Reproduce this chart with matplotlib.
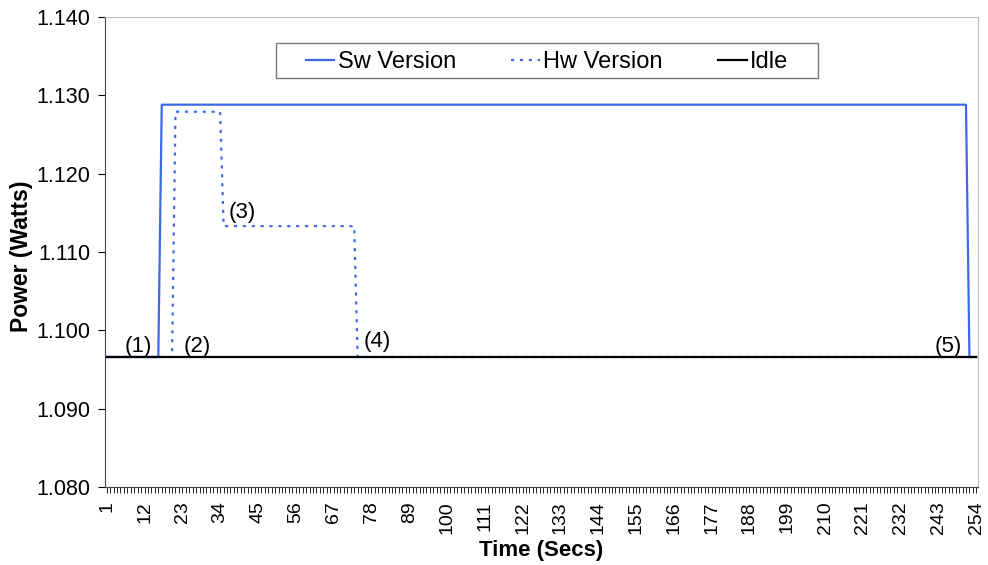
import numpy as np
import matplotlib.pyplot as plt
from matplotlib.patches import Rectangle

plt.rcParams['font.family'] = ['Liberation Sans', 'DejaVu Sans']

# step levels (Watts) and how many samples each level lasts
idle_level = 1.0966
sw_levels = [1.0966, 1.1288, 1.0966]
sw_runs = [16, 235, 3]
hw_levels = [1.0966, 1.1279, 1.1133, 1.0966]
hw_runs = [20, 14, 39, 181]
n_samples = 254

notes = ['(1)', '(2)', '(3)', '(4)', '(5)']
note_x = [10.1, 27.3, 40.4, 79.6, 245.8]
note_y = [1.0980, 1.0980, 1.1150, 1.0986, 1.0979]


def main():
    t = np.arange(1, n_samples + 1)
    sw = np.repeat(sw_levels, sw_runs)
    hw = np.repeat(hw_levels, hw_runs)
    idle = np.full(n_samples, idle_level)

    fig = plt.figure(figsize=(9.88, 5.65), dpi=100)
    ax = fig.add_axes([0.1063, 0.138, 0.8836, 0.832])

    blue = '#3d6ae8'
    ax.plot(t, sw, color=blue, lw=1.6, label='Sw Version')
    ax.plot(t, hw, color=blue, lw=1.6, ls=(0, (1.4, 2.6)), label='Hw Version')
    ax.plot(t, idle, color='black', lw=1.6, label='Idle')

    for s, x, y in zip(notes, note_x, note_y):
        ax.text(x, y, s, ha='center', va='center', fontsize=16)

    ax.set_xlim(0.5, n_samples + 0.5)
    ax.set_ylim(1.080, 1.140)
    yt = np.arange(1.080, 1.1401, 0.010)
    ax.set_yticks(yt)
    ax.set_yticklabels(['%.3f' % v for v in yt], fontsize=15.5)
    ax.set_xticks(t)
    ax.set_xticklabels([str(v) if (v - 1) % 11 == 0 else '' for v in t],
                       rotation=90, fontsize=14)
    ax.tick_params(axis='x', length=4, width=0.6, pad=6)
    ax.tick_params(axis='y', length=5, width=0.8, pad=5.5)

    ax.set_xlabel('Time (Secs)', fontsize=16, fontweight='bold', va='top')
    ax.xaxis.set_label_coords(0.5, -0.112)
    ax.set_ylabel('Power (Watts)', fontsize=16.5, fontweight='bold')
    ax.yaxis.set_label_coords(-0.083, 0.49)

    for side in ['left', 'bottom']:
        ax.spines[side].set_color('#444444')
    for side in ['top', 'right']:
        ax.spines[side].set_color('#bbbbbb')

    # legend box drawn by hand, entries centred in it
    fig.patches.append(Rectangle((276 / 988, 1 - 78 / 565), 542 / 988, 35 / 565,
                                 transform=fig.transFigure, fill=False,
                                 edgecolor='#777777', lw=1.0))
    ax.legend(loc='center', bbox_to_anchor=(0.5063, 0.904), ncol=3,
              fontsize=17, frameon=False, handlelength=1.2,
              handletextpad=0.15, columnspacing=2.35, borderpad=0.2)

    fig.savefig('out.png', dpi=100)


if __name__ == '__main__':
    main()
